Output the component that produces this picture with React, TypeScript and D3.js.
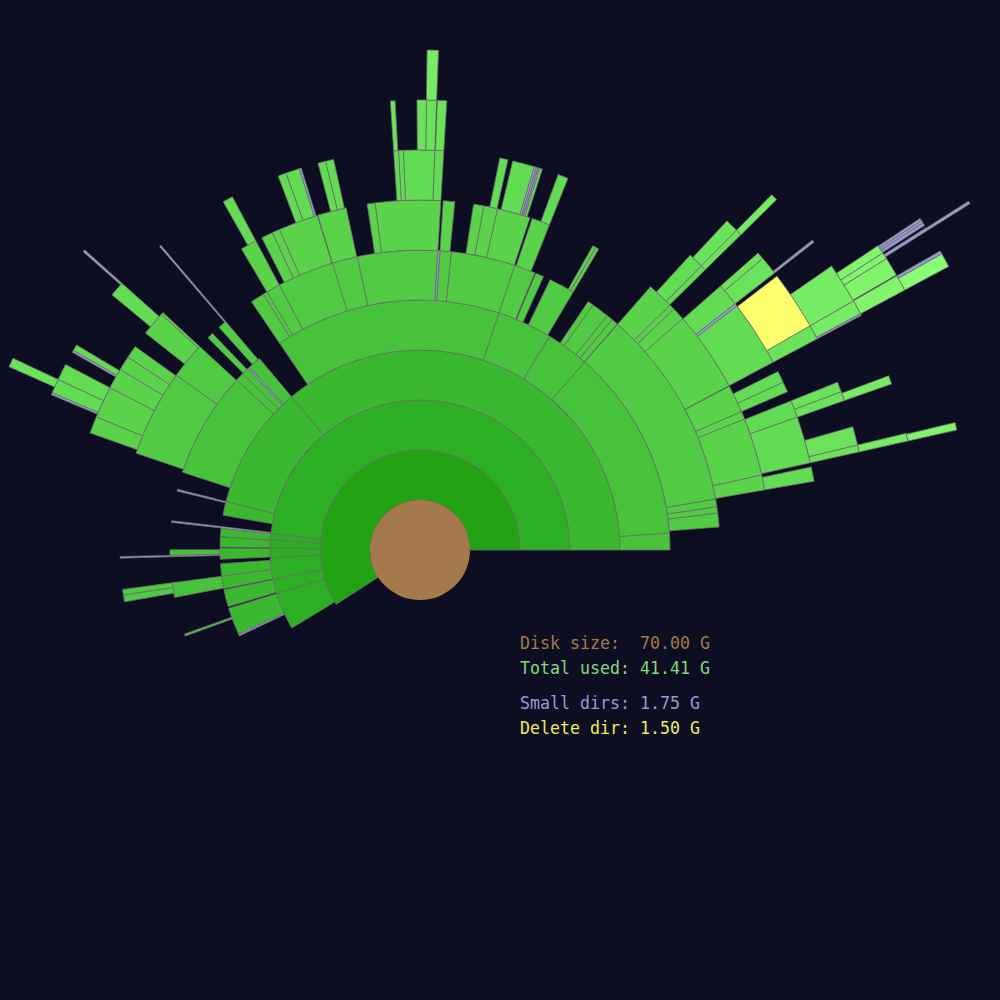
import React from 'react';
import * as d3 from 'd3';

type Row = [string, string, string, number];

// Disk / legend data
const DISK_SIZE = 70;
const legendLabels = ['Disk size:  ', 'Total used: ', 'Small dirs: ', 'Delete dir: '];
const legendValues = [70.0, 41.41, 1.75, 1.5];
const legendColors = ['#a47a4c', '#7edc7e', '#9a9ad0', '#eeea5e'];

// Directory tree: [id, parentId, kind, own size in G]
// kind: d = directory, s = small directory, x = directory to delete, f = loose files
const rootRows: Row[] = [
  ['/', '', 'd', 0.311],
  ['A', '/', 'd', 0],
  ['B1', '/', 'd', 0],
  ['B2', '/', 'd', 0.019],
  ['B3', '/', 'd', 0.058],
  ['B4', '/', 'd', 0.058],
  ['B5', '/', 'd', 0.097],
  ['B6', '/', 'd', 1.147],
  ['C1', 'A', 'd', 1.128],
  ['C2', 'A', 'd', 0.797],
  ['C3', 'A', 'd', 0.7],
  ['fA', 'A', 'f', 0.642],
  ['SA', 'A', 's', 0.019],
  ['SA2', 'SA', 's', 0.078],
];

const eastRows: Row[] = [
  ['D1', 'C1', 'd', 0.758],
  ['D2', 'C1', 'd', 0],
  ['fD2', 'D2', 'f', 0.097],
  ['E1', 'D2', 'd', 0.525],
  ['E2', 'D2', 'd', 0.233],
  ['E3', 'D2', 'd', 0.292],
  ['E4', 'D2', 'd', 0],
  ['fE4a', 'E4', 'f', 0.019],
  ['F1', 'E4', 'd', 0.078],
  ['G1', 'F1', 'd', 0.408],
  ['F2', 'E4', 'd', 0.019],
  ['fF2', 'F2', 'f', 0.039],
  ['G2', 'F2', 'd', 0.681],
  ['H1', 'G2', 'd', 0],
  ['I1', 'H1', 'd', 0.019],
  ['J1', 'I1', 'd', 0.156],
  ['H2', 'G2', 'd', 0.467],
  ['G3', 'F2', 'd', 0],
  ['H3', 'G3', 'd', 0.039],
  ['I2', 'H3', 'd', 0.194],
  ['H4', 'G3', 'd', 0.253],
  ['F3', 'E4', 'd', 0.253],
  ['F4', 'E4', 'd', 0.272],
  ['G4', 'F4', 'd', 0.292],
  ['G5', 'F4', 'd', 0.331],
  ['fE4b', 'E4', 'f', 0.019],
  ['F5', 'E4', 'd', 0.019],
  ['G6', 'F5', 'd', 0.019],
  ['H5', 'G6', 'd', 0],
  ['I3', 'H5', 's', 0.039],
  ['I4', 'H5', 'd', 0],
  ['J2', 'I4', 'd', 0],
  ['K1', 'J2', 'd', 0.272],
  ['K2', 'J2', 's', 0.058],
  ['X', 'G6', 'x', 0.564],
  ['I5', 'X', 'd', 0.194],
  ['fI5', 'I5', 'f', 0.019],
  ['J3', 'I5', 'd', 0.389],
  ['J4', 'I5', 'd', 0.039],
  ['fJ4', 'J4', 'f', 0.039],
  ['K3', 'J4', 's', 0.008],
  ['L1', 'K3', 's', 0.051],
  ['J5', 'I5', 'd', 0.01],
  ['fJ5', 'J5', 'f', 0.01],
  ['K4', 'J5', 's', 0.058],
  ['K5', 'J5', 's', 0.049],
  ['K6', 'J5', 's', 0.049],
  ['G7', 'F5', 's', 0.078],
  ['G8', 'F5', 'd', 0],
  ['H6', 'G8', 'd', 0.408],
  ['I6', 'H6', 's', 0.058],
  ['H7', 'G8', 'd', 0.175],
  ['F6', 'E4', 'd', 0.408],
  ['F7', 'E4', 'd', 0.175],
  ['F8', 'E4', 'd', 0.253],
  ['fF8', 'F8', 'f', 0.019],
  ['G9', 'F8', 'd', 0],
  ['H8', 'G9', 'd', 0],
  ['I7', 'H8', 'd', 0.156],
  ['G10', 'F8', 'd', 0.097],
  ['H9', 'G10', 'd', 0.331],
  ['D3', 'C1', 'd', 0.564],
  ['fD3', 'D3', 'f', 0.019],
  ['E5', 'D3', 'd', 0.253],
  ['E6', 'D3', 'd', 0.233],
  ['E7', 'D3', 'd', 0.661],
  ['E8', 'D3', 'd', 0.214],
  ['D4', 'C1', 'd', 0],
  ['fD4a', 'D4', 'f', 0.097],
  ['E9', 'D4', 'd', 0.758],
  ['F9', 'E9', 'd', 0.107],
  ['F10', 'E9', 'd', 0.107],
  ['fD4b', 'D4', 'f', 0.272],
  ['E10', 'D4', 'd', 0.311],
  ['fD4c', 'D4', 'f', 0.039],
  ['E11', 'D4', 'd', 0.058],
  ['fE11', 'E11', 'f', 0.156],
  ['F11', 'E11', 'd', 0.292],
  ['G11', 'F11', 'd', 0.292],
  ['D6', 'C1', 'd', 0],
  ['E12', 'D6', 'd', 0.544],
  ['fE12', 'E12', 'f', 0.019],
  ['F12', 'E12', 'd', 0.117],
  ['fF12', 'F12', 'f', 0.097],
  ['G12', 'F12', 'd', 0.078],
  ['G13', 'F12', 's', 0.049],
  ['G14', 'F12', 's', 0.049],
  ['G15', 'F12', 's', 0.058],
  ['G16', 'F12', 'd', 0.622],
  ['F13', 'E12', 'd', 0.194],
  ['fF13', 'F13', 'f', 0.019],
  ['G17', 'F13', 'd', 0.233],
  ['F14', 'E12', 'd', 0.331],
  ['E13', 'D6', 'd', 0],
  ['fE13', 'E13', 'f', 0.058],
  ['F15', 'E13', 'd', 0.369],
  ['E14', 'D6', 's', 0.078],
  ['E15', 'D6', 'd', 0.661],
  ['F16', 'E15', 'd', 0.7],
  ['G18', 'F16', 'd', 0.019],
  ['H10', 'G18', 'd', 0.233],
  ['G19', 'F16', 'd', 0.389],
  ['H11', 'G19', 'd', 0],
  ['I8', 'H11', 'd', 0.253],
  ['H12', 'G19', 'd', 0.233],
  ['G20', 'F16', 'd', 0.136],
  ['G21', 'F16', 'd', 0],
  ['fG21', 'G21', 'f', 0.019],
  ['H13', 'G21', 'd', 0.117],
  ['F17', 'E15', 'd', 0.253],
  ['E16', 'D6', 'd', 0],
  ['fE16', 'E16', 'f', 0.019],
  ['F18', 'E16', 'd', 0.428],
  ['fF18', 'F18', 'f', 0.058],
  ['G22', 'F18', 'd', 0.233],
  ['G23', 'F18', 'd', 0.214],
  ['E17', 'D6', 'd', 0.214],
  ['fE17', 'E17', 'f', 0.019],
  ['F19', 'E17', 'd', 0.564],
  ['fF19', 'F19', 'f', 0.039],
  ['G24', 'F19', 's', 0.058],
  ['G25', 'F19', 'd', 0.389],
  ['G26', 'F19', 'd', 0.233],
  ['F20', 'E17', 'd', 0.253],
  ['F21', 'E17', 'd', 0.369],
  ['E18', 'D6', 'd', 0],
  ['F22', 'E18', 'd', 0.233],
  ['G27', 'F22', 'd', 0.292],
  ['E19', 'D6', 'd', 0.156],
  ['E20', 'D6', 'd', 0.525],
];

const westRows: Row[] = [
  ['D7', 'C2', 'd', 0.194],
  ['fD7', 'D7', 'f', 0.078],
  ['E21', 'D7', 'd', 0.282],
  ['F23', 'E21', 's', 0],
  ['G28', 'F23', 's', 0.049],
  ['D8', 'C2', 's', 0.078],
  ['D9', 'C2', 'd', 0.039],
  ['fD9', 'D9', 'f', 0.058],
  ['E22', 'D9', 'd', 0.233],
  ['D10', 'C2', 'd', 0.389],
  ['D11', 'C2', 'd', 0.136],
  ['fD11', 'D11', 'f', 0.019],
  ['E23', 'D11', 'd', 0.525],
  ['F24', 'E23', 'd', 0.078],
  ['F25', 'E23', 'd', 0.253],
  ['fF25', 'F25', 'f', 0.097],
  ['G29', 'F25', 'd', 0.369],
  ['H14', 'G29', 's', 0.058],
  ['E24', 'D11', 'd', 0.136],
  ['fE24', 'E24', 'f', 0.019],
  ['F26', 'E24', 'd', 0.408],
  ['F27', 'E24', 'd', 0.467],
  ['F28', 'E24', 'd', 0.389],
  ['fF28', 'F28', 'f', 0.039],
  ['G30', 'F28', 'd', 0.175],
  ['G31', 'F28', 's', 0.058],
  ['F29', 'E24', 'd', 0.097],
  ['G32', 'F29', 'd', 0.467],
  ['G33', 'F29', 'd', 0.175],
  ['H15', 'G33', 'd', 0.233],
  ['G34', 'F29', 's', 0.058],
  ['F30', 'E24', 'd', 0.544],
  ['D12', 'C3', 's', 0.078],
];

const southRows: Row[] = [
  ['C4', 'B1', 'd', 0.467],
  ['fB2', 'B2', 'f', 0.019],
  ['C5', 'B2', 'd', 0.564],
  ['fB3', 'B3', 'f', 0.039],
  ['C6', 'B3', 'd', 0.214],
  ['fC6', 'C6', 'f', 0.097],
  ['D13', 'C6', 'd', 0.253],
  ['D14', 'C6', 's', 0],
  ['E25', 'D14', 's', 0.058],
  ['fB4', 'B4', 'f', 0.194],
  ['C7', 'B4', 'd', 0.7],
  ['C8', 'B4', 'd', 0.039],
  ['D15', 'C8', 'd', 0.194],
  ['E26', 'D15', 'd', 0.214],
  ['E27', 'D15', 'd', 0.253],
  ['C9', 'B5', 'd', 0.972],
  ['C10', 'B6', 'd', 0.933],
  ['fC10', 'C10', 'f', 0.525],
  ['D16', 'C10', 'd', 0.097],
  ['C11', 'B6', 's', 0.097],
];

const depthColors = [
  '#20a212', '#2caf22', '#3ab830', '#47c23b', '#51cb43', '#5ad34b',
  '#62dc52', '#6ae35a', '#75ec63', '#80f56c', '#88fc74', '#90ff7c',
];
const SMALL_COLOR = '#9a9ad0';
const DELETE_COLOR = '#ffff6e';
const DISK_COLOR = '#a47a4c';
const BG = '#0e0e22';

export default function App() {
  const cx = 420;
  const cy = 550;
  const ring = 50;

  const rows: Row[] = [...rootRows, ...eastRows, ...westRows, ...southRows];
  const root = d3
    .stratify<Row>()
    .id((d) => d[0])
    .parentId((d) => (d[1] === '' ? null : d[1]))(rows);
  root.sum((d) => d[3]);
  d3.partition<Row>().size([root.value as number, root.height + 1])(root as any);

  const angle = d3
    .scaleLinear()
    .domain([0, DISK_SIZE])
    .range([Math.PI / 2, Math.PI / 2 - 2 * Math.PI]);
  const radius = d3.scaleLinear().domain([0, 1]).range([ring, 2 * ring]);
  const arc = d3.arc<any>();

  const all = root.descendants().filter((n) => n.data[2] !== 'f') as any[];
  const order = (k: string) => (k === 'd' ? 0 : k === 's' ? 1 : 2);
  all.sort((a, b) => order(a.data[2]) - order(b.data[2]));

  const fillFor = (n: any) =>
    n.data[2] === 's' ? SMALL_COLOR : n.data[2] === 'x' ? DELETE_COLOR : depthColors[Math.min(n.depth, depthColors.length - 1)];

  const fmt = d3.format('.2f');

  return (
    <div>
      <style>{`body{margin:0;background:${BG};}`}</style>
      <svg width={1000} height={1000} style={{ display: 'block', background: BG }}>
        <g transform={`translate(${cx},${cy})`}>
          {all.map((n) => (
            <path
              key={n.id}
              d={
                arc({
                  innerRadius: radius(n.depth),
                  outerRadius: radius(n.depth + 1),
                  startAngle: angle(n.x0),
                  endAngle: angle(n.x1),
                }) as string
              }
              fill={fillFor(n)}
              stroke="#6f6f6f"
              strokeWidth={0.8}
            />
          ))}
          <circle r={radius(0)} fill={DISK_COLOR} />
        </g>
        {legendLabels.map((lab, i) => {
          const txt = `${lab}${fmt(legendValues[i])} G`;
          const y = [649, 674, 709, 734][i];
          return (
            <text
              key={lab}
              x={520}
              y={y}
              fill={legendColors[i]}
              fontFamily="'DejaVu Sans Mono', monospace"
              fontSize={18.5}
              textLength={txt.length * 10}
              lengthAdjust="spacingAndGlyphs"
              style={{ whiteSpace: 'pre' }}
            >
              {txt}
            </text>
          );
        })}
      </svg>
    </div>
  );
}
